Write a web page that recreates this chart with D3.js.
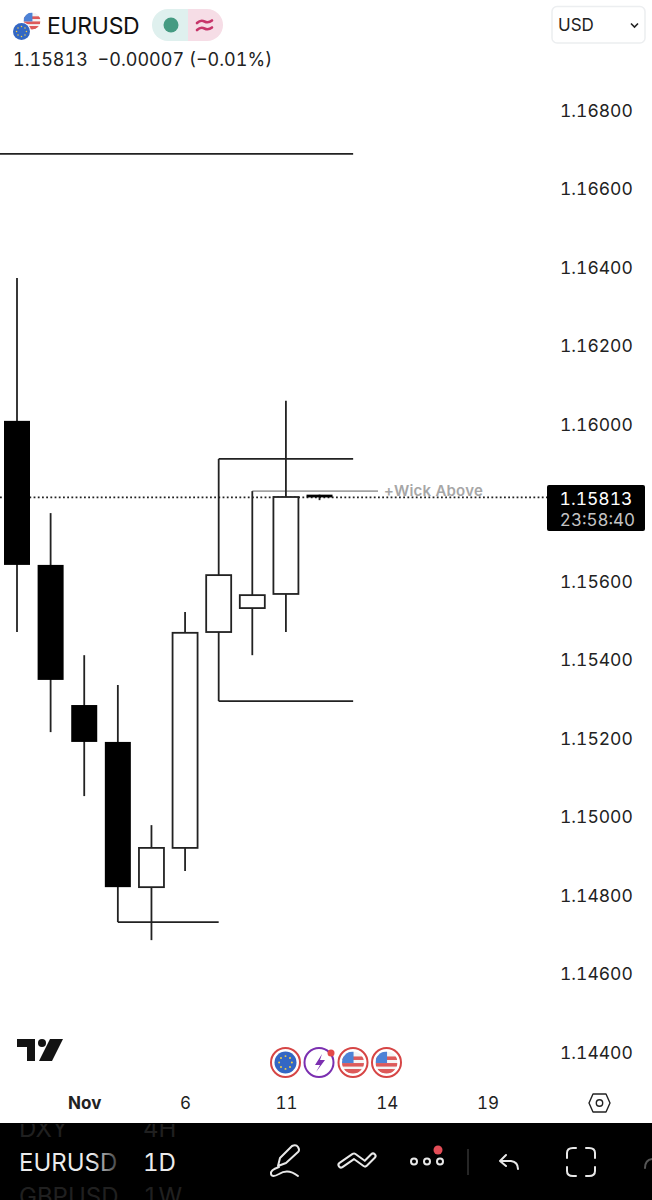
<!DOCTYPE html>
<html>
<head>
<meta charset="utf-8">
<script src="https://cdn.jsdelivr.net/npm/d3@7"></script>
<style>
  html, body { margin: 0; padding: 0; background: #fff; }
  svg { display: block; }
  text { font-family: Inter, "Noto Sans", sans-serif; font-variant-numeric: tabular-nums; }
</style>
</head>
<body>
<div id="chart"></div>
<script>
// chart data
const days = ['Oct 30', 'Oct 31', 'Nov 3', 'Nov 4', 'Nov 5', 'Nov 6', 'Nov 7', 'Nov 10', 'Nov 11', 'Nov 12', 'Nov 13', 'Nov 14', 'Nov 17', 'Nov 18', 'Nov 19'];
const opens  = [1.16008, 1.15641, 1.15284, 1.15190, 1.14820, 1.14920, 1.15470, 1.15531, 1.15567, 1.15820];
const closes = [1.15641, 1.15348, 1.15190, 1.14820, 1.14920, 1.15468, 1.15615, 1.15564, 1.15814, 1.15813];
const highs  = [1.16372, 1.15773, 1.15411, 1.15335, 1.14978, 1.15521, 1.15911, 1.15829, 1.16059, 1.15820];
const lows   = [1.15470, 1.15215, 1.15052, 1.14731, 1.14685, 1.14861, 1.15294, 1.15411, 1.15470, 1.15806];

// 1.15800 sits behind the last price tag, so it is not listed
const priceTicks = [1.144, 1.146, 1.148, 1.15, 1.152, 1.154, 1.156, 1.16, 1.162, 1.164, 1.166, 1.168];
const dayTicks = ['Nov 3', 'Nov 6', 'Nov 11', 'Nov 14', 'Nov 19'];
const dayTickLabels = ['Nov', '6', '11', '14', '19'];

const lastPrice = 1.15813;
const countdown = '23:58:40';

// drawn levels: [from day, to day, price]
const levelFrom = ['Nov 7', 'Nov 7', 'Nov 4', 'Oct 30'];
const levelTo = ['Nov 13', 'Nov 13', 'Nov 7', 'Nov 13'];
const levelPrice = [1.15911, 1.15294, 1.14731, 1.16688];

const width = 652, height = 1200;
const svg = d3.select('#chart').append('svg').attr('width', width).attr('height', height);
const defs = svg.append('defs');

const x = d3.scalePoint().domain(days).range([17, 487.6]);
const y = d3.scaleLinear().domain([1.144, 1.168]).range([1052, 110]);
const bodyWidth = 25;
const lineWidth = 1.8;

// last price dotted line
svg.append('line')
    .attr('x1', 0).attr('x2', 547)
    .attr('y1', y(lastPrice)).attr('y2', y(lastPrice))
    .style('stroke', '#222').style('stroke-width', 1.6).style('stroke-dasharray', '1.8,2.4');

// levels
svg.selectAll('.level').data(levelPrice).enter().append('line')
    .attr('class', 'level')
    .attr('x1', (d, i) => i === 3 ? 0 : x(levelFrom[i]))
    .attr('x2', (d, i) => x(levelTo[i]))
    .attr('y1', d => y(d)).attr('y2', d => y(d))
    .style('stroke', '#222').style('stroke-width', lineWidth);

// wick above marker
svg.append('line')
    .attr('x1', x('Nov 10')).attr('x2', 378)
    .attr('y1', y(highs[7])).attr('y2', y(highs[7]))
    .style('stroke', '#a3a3a3').style('stroke-width', 1.6);
svg.append('text')
    .attr('x', 384).attr('y', y(highs[7]) + 4.5)
    .style('font-size', '15px').style('font-weight', 600).style('fill', '#a6a6a6')
    .style('letter-spacing', '0.2px')
    .text('+Wick Above');

// candles
const candles = d3.range(opens.length);
svg.selectAll('.wick').data(candles).enter().append('line')
    .attr('class', 'wick')
    .attr('x1', i => x(days[i])).attr('x2', i => x(days[i]))
    .attr('y1', i => y(highs[i])).attr('y2', i => y(lows[i]))
    .style('stroke', '#222').style('stroke-width', lineWidth);

const isUp = i => closes[i] >= opens[i];
svg.selectAll('.body').data(candles).enter().append('rect')
    .attr('class', 'body')
    .attr('x', i => x(days[i]) - (isUp(i) ? bodyWidth : bodyWidth + 1) / 2)
    .attr('width', i => isUp(i) ? bodyWidth : bodyWidth + 1)
    .attr('y', i => y(Math.max(opens[i], closes[i])))
    .attr('height', i => Math.abs(y(opens[i]) - y(closes[i])))
    .style('fill', i => isUp(i) ? '#fff' : '#000')
    .style('stroke', i => isUp(i) ? '#222' : 'none')
    .style('stroke-width', lineWidth);

// price axis
const yAxis = svg.append('g')
    .attr('transform', 'translate(560,0.7)')
    .call(d3.axisRight(y).tickValues(priceTicks).tickSize(0).tickPadding(0).tickFormat(d3.format('.5f')));
yAxis.select('.domain').remove();
yAxis.selectAll('text')
    .style('font-family', 'Inter, sans-serif').style('font-size', '17.5px').style('fill', '#222');

// time axis
const xAxis = svg.append('g')
    .attr('transform', 'translate(0,1097)')
    .call(d3.axisBottom(x).tickValues(dayTicks).tickSize(0).tickPadding(0)
        .tickFormat((d, i) => dayTickLabels[i]));
xAxis.select('.domain').remove();
xAxis.selectAll('text')
    .style('font-family', 'Inter, sans-serif').style('font-size', '17px').style('fill', '#222')
    .style('font-weight', (d, i) => i === 0 ? 700 : 400);

// last price tag
const tag = svg.append('g');
tag.append('rect').attr('x', 547).attr('y', 485).attr('width', 98).attr('height', 46).attr('rx', 2).style('fill', '#000');
tag.append('text').attr('x', 596).attr('y', 504.5).attr('text-anchor', 'middle')
    .style('font-size', '17.5px').style('fill', '#fff')
    .text(lastPrice.toFixed(5));
tag.append('text').attr('x', 597.5).attr('y', 525.5).attr('text-anchor', 'middle')
    .style('font-size', '17px').style('fill', '#c4c4c4')
    .text(countdown);

// header
function flagEu(g, cx, cy, r) {
    g.append('circle').attr('cx', cx).attr('cy', cy).attr('r', r).style('fill', '#3367c4');
    d3.range(8).forEach(k => {
        const a = k * Math.PI / 4;
        g.append('circle').attr('cx', cx + r * 0.58 * Math.cos(a)).attr('cy', cy + r * 0.58 * Math.sin(a))
            .attr('r', r * 0.09).style('fill', '#f3cf45');
    });
}
function flagUs(g, cx, cy, r, id) {
    defs.append('clipPath').attr('id', id).append('circle').attr('cx', cx).attr('cy', cy).attr('r', r);
    const f = g.append('g').attr('clip-path', `url(#${id})`);
    f.append('rect').attr('x', cx - r).attr('y', cy - r).attr('width', 2 * r).attr('height', 2 * r).style('fill', '#f4f4f4');
    [-0.55, 0.05, 0.6].forEach(k => {
        f.append('rect').attr('x', cx - r).attr('y', cy + k * r).attr('width', 2 * r).attr('height', r * 0.32)
            .style('fill', '#dd5a5a');
    });
    f.append('rect').attr('x', cx + r * 0.55 - r * 2).attr('y', cy + 0.6 * r).attr('width', 2 * r).attr('height', r).style('fill', '#dd5a5a');
    f.append('rect').attr('x', cx - r).attr('y', cy - r).attr('width', r * 1.05).attr('height', r * 1.05).style('fill', '#4d82d6');
}
const header = svg.append('g');
flagUs(header, 32, 21, 8.5, 'usTop');
header.append('circle').attr('cx', 21.5).attr('cy', 31.5).attr('r', 9.5).style('fill', '#fff');
flagEu(header, 21.5, 31.5, 8.5);
header.append('text').attr('x', 47).attr('y', 33.5).style('font-size', '23px').style('fill', '#111').style('letter-spacing', '-0.3px').text('EURUSD');

defs.append('clipPath').attr('id', 'pill').append('rect').attr('x', 152).attr('y', 9).attr('width', 71).attr('height', 32).attr('rx', 16);
const pill = header.append('g').attr('clip-path', 'url(#pill)');
pill.append('rect').attr('x', 152).attr('y', 9).attr('width', 36).attr('height', 32).style('fill', '#dff0ee');
pill.append('rect').attr('x', 188).attr('y', 9).attr('width', 35).attr('height', 32).style('fill', '#f6dde6');
header.append('circle').attr('cx', 171).attr('cy', 25).attr('r', 7.5).style('fill', '#459b82');
[21.5, 28.5].forEach(yy => {
    header.append('path').attr('d', `M197 ${yy + 1.5} q3.7 -3.5 7.5 -1.5 t7.5 -1`)
        .style('fill', 'none').style('stroke', '#c7356a').style('stroke-width', 2.6).style('stroke-linecap', 'round');
});
header.append('text').attr('x', 13).attr('y', 65.5)
    .style('font-size', '18px').style('fill', '#222')
    .style('white-space', 'pre').text('1.15813  \u22120.00007 (\u22120.01%)');

// currency box
header.append('rect').attr('x', 552).attr('y', 6.5).attr('width', 93).attr('height', 36.5).attr('rx', 5)
    .style('fill', '#fff').style('stroke', '#eceef0').style('stroke-width', 1.5);
header.append('text').attr('x', 558).attr('y', 31).style('font-size', '17px').style('fill', '#222').text('USD');
header.append('path').attr('d', 'M631 23.5 l3.5 3.5 l3.5 -3.5').style('fill', 'none').style('stroke', '#222').style('stroke-width', 1.6);

// tradingview logo
const logo = svg.append('g').style('fill', '#131313');
logo.append('path').attr('d', 'M17 1039 H35 V1061 H27 V1047 H17 Z');
logo.append('circle').attr('cx', 42).attr('cy', 1043).attr('r', 4);
logo.append('path').attr('d', 'M50 1039 H63 L52 1061 H39 Z');

// event badges
const badges = svg.append('g');
function badge(cx, color) {
    return badges.append('circle').attr('cx', cx).attr('cy', 1062.5).attr('r', 14.5)
        .style('fill', '#fff').style('stroke', color).style('stroke-width', 2);
}
badge(285.5, '#d64545');
flagEu(badges, 285.5, 1062.5, 11);
badge(319, '#7b2fb0');
badges.append('path').attr('d', 'M322 1054 L315 1065 H320 L316 1072 L325 1060 H320 Z').style('fill', '#7b2fb0');
badges.append('circle').attr('cx', 331).attr('cy', 1053).attr('r', 3.5).style('fill', '#e34848');
badge(353, '#d64545');
flagUs(badges, 353, 1062.5, 11, 'usA');
badge(386.5, '#d64545');
flagUs(badges, 386.5, 1062.5, 11, 'usB');

// settings hexagon
svg.append('path').attr('d', 'M593 1094 H606 L610 1103 L606 1112 H593 L589 1103 Z')
    .style('fill', 'none').style('stroke', '#222').style('stroke-width', 1.4).style('stroke-linejoin', 'round');
svg.append('circle').attr('cx', 599.5).attr('cy', 1103).attr('r', 3.2)
    .style('fill', 'none').style('stroke', '#222').style('stroke-width', 1.4);

// bottom toolbar
const bar = svg.append('g');
bar.append('rect').attr('x', 0).attr('y', 1123).attr('width', width).attr('height', 77).style('fill', '#000');
const fade = defs.append('linearGradient').attr('id', 'symbolFade').attr('gradientUnits', 'userSpaceOnUse')
    .attr('x1', 92).attr('x2', 118).attr('y1', 0).attr('y2', 0);
fade.append('stop').attr('offset', '0%').attr('stop-color', '#ececec');
fade.append('stop').attr('offset', '100%').attr('stop-color', '#3a3a3a');
defs.append('clipPath').attr('id', 'barClip').append('rect').attr('x', 0).attr('y', 1124).attr('width', width).attr('height', 76);
const picker = bar.append('g').attr('clip-path', 'url(#barClip)');
picker.append('text').attr('x', 19).attr('y', 1171).style('font-size', '24px').style('fill', 'url(#symbolFade)').text('EURUSD');
picker.append('text').attr('x', 143).attr('y', 1171).style('font-size', '24px').style('fill', '#ececec').text('1D');
picker.append('text').attr('x', 19).attr('y', 1137).style('font-size', '24px').style('fill', '#202020').text('DXY');
picker.append('text').attr('x', 143).attr('y', 1137).style('font-size', '24px').style('fill', '#202020').text('4H');
picker.append('text').attr('x', 19).attr('y', 1205).style('font-size', '24px').style('fill', '#202020').text('GBPUSD');
picker.append('text').attr('x', 143).attr('y', 1205).style('font-size', '24px').style('fill', '#202020').text('1W');

const icons = bar.append('g').style('fill', 'none').style('stroke', '#e8e8e8').style('stroke-width', 2)
    .style('stroke-linecap', 'round').style('stroke-linejoin', 'round');
// pen
icons.append('path').attr('d', 'M278 1166 L280 1158 L292 1146 Q296 1144 298 1147 Q300 1150 298 1152 L286 1163 Z');
icons.append('path').attr('d', 'M279 1167 Q270 1170 271 1174 Q272 1178 279 1174 Q288 1168 298 1176');
// zigzag, drawn as an outlined band
const zigzag = 'M341 1165 L354 1156 L365 1164 L373 1156';
bar.append('path').attr('d', zigzag).style('fill', 'none').style('stroke', '#e8e8e8').style('stroke-width', 7)
    .style('stroke-linecap', 'round').style('stroke-linejoin', 'round');
bar.append('path').attr('d', zigzag).style('fill', 'none').style('stroke', '#000').style('stroke-width', 3)
    .style('stroke-linecap', 'round').style('stroke-linejoin', 'round');
// dots
[414, 427, 440].forEach(cx => {
    icons.append('circle').attr('cx', cx).attr('cy', 1161.5).attr('r', 3);
});
bar.append('circle').attr('cx', 438).attr('cy', 1150).attr('r', 4.5).style('fill', '#e34d57');
bar.append('line').attr('x1', 468).attr('x2', 468).attr('y1', 1149).attr('y2', 1175).style('stroke', '#333').style('stroke-width', 1.5);
// undo
icons.append('path').attr('d', 'M506 1155 L500 1161 L506 1166 M500 1161 H511 Q518 1162 518 1169');
// fullscreen corners
icons.append('path').attr('d', 'M567 1158 V1153 Q567 1148 573 1148 H576 M586 1148 H589 Q595 1148 595 1153 V1158');
icons.append('path').attr('d', 'M567 1167 V1171 Q567 1176 573 1176 H576 M586 1176 H589 Q595 1176 595 1171 V1167');
// redo, cut off at the edge
icons.append('path').attr('d', 'M645 1168 Q645 1160 652 1159').style('stroke', '#555');
</script>
</body>
</html>
